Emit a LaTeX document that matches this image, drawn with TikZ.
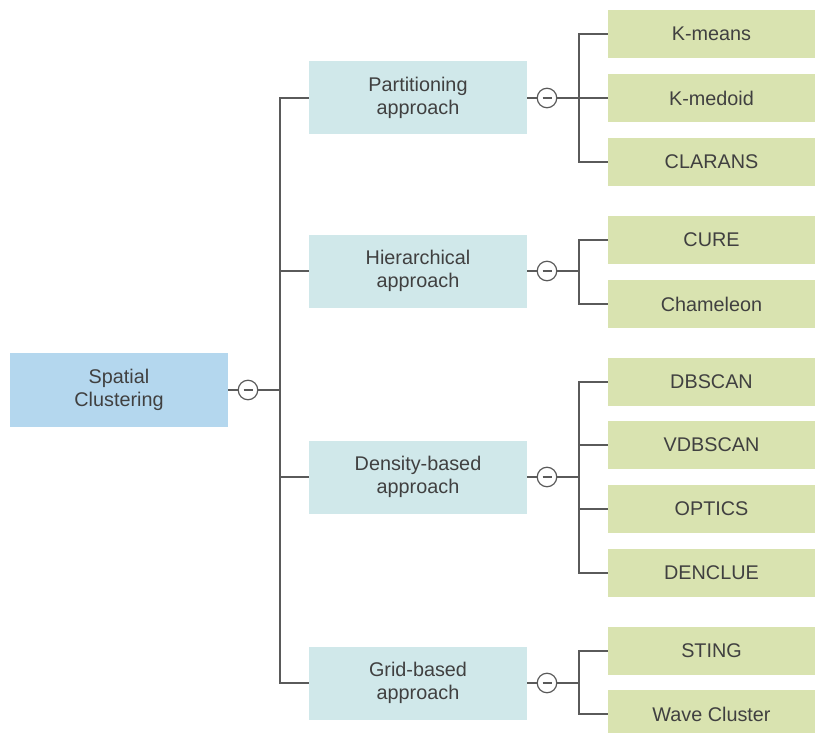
\documentclass[tikz,border=0pt]{standalone}
\usepackage{fontspec}
\setmainfont{Liberation Sans}
\definecolor{rootblue}{HTML}{B4D7EE}
\definecolor{catcyan}{HTML}{D0E8EA}
\definecolor{leafgreen}{HTML}{D9E3B0}
\definecolor{txtgray}{HTML}{404040}
\definecolor{linegray}{HTML}{5A5A5A}
\begin{document}
\begin{tikzpicture}[x=1pt,y=-1pt,
  every node/.style={inner sep=0pt, align=center, text=txtgray, font=\fontsize{19.8}{22.5}\selectfont},
  rootbox/.style={fill=rootblue, minimum width=218pt, minimum height=74pt},
  catbox/.style={fill=catcyan, minimum width=218pt, minimum height=73pt},
  leafbox/.style={fill=leafgreen, minimum width=207pt, minimum height=48pt},
  toggle/.style={circle, draw=linegray, line width=1.2pt, fill=white, minimum size=19.5pt,
    path picture={\draw[linegray, line width=1.2pt] (path picture bounding box.center) +(-4.5pt,0) -- +(4.5pt,0);}},
  wire/.style={draw=linegray, line width=1.1pt}]
\useasboundingbox (0,0) rectangle (817,733);
% root
\node[rootbox] (root) at (119,390) {Spatial\\Clustering};
\node[toggle] (t0) at (248,390) {};
\coordinate (trunk) at (280,390);
% approaches
\node[catbox] (part) at (418,98) {Partitioning\\approach};
\node[catbox] (hier) at (418,271) {Hierarchical\\approach};
\node[catbox] (dens) at (418,477) {Density-based\\approach};
\node[catbox] (grid) at (418,683) {Grid-based\\approach};
\node[toggle] (t1) at (547,98) {};
\node[toggle] (t2) at (547,271) {};
\node[toggle] (t3) at (547,477) {};
\node[toggle] (t4) at (547,683) {};
\coordinate (b1) at (579,98);
\coordinate (b2) at (579,271);
\coordinate (b3) at (579,477);
\coordinate (b4) at (579,683);
% algorithms
\node[leafbox] (kmeans) at (711.5,34) {K-means};
\node[leafbox] (kmedoid) at (711.5,98) {K-medoid};
\node[leafbox] (clarans) at (711.5,162) {CLARANS};
\node[leafbox] (cure) at (711.5,240) {CURE};
\node[leafbox] (cham) at (711.5,304) {Chameleon};
\node[leafbox] (dbscan) at (711.5,382) {DBSCAN};
\node[leafbox] (vdbscan) at (711.5,445) {VDBSCAN};
\node[leafbox] (optics) at (711.5,509) {OPTICS};
\node[leafbox] (denclue) at (711.5,573) {DENCLUE};
\node[leafbox] (sting) at (711.5,651) {STING};
\node[leafbox] (wave) at (711.5,714) {Wave Cluster};
% root to approaches
\draw[wire] (root) -- (t0) -- (trunk);
\draw[wire] (part.west) -| (trunk) |- (grid.west);
\draw[wire] (hier.west) -- (hier.west -| trunk);
\draw[wire] (dens.west) -- (dens.west -| trunk);
% approaches to algorithms
\draw[wire] (part) -- (t1) -- (b1) -- (kmedoid.west);
\draw[wire] (kmeans.west) -| (b1) |- (clarans.west);
\draw[wire] (hier) -- (t2) -- (b2);
\draw[wire] (cure.west) -| (b2) |- (cham.west);
\draw[wire] (dens) -- (t3) -- (b3);
\draw[wire] (dbscan.west) -| (b3) |- (denclue.west);
\draw[wire] (vdbscan.west) -- (vdbscan.west -| b3);
\draw[wire] (optics.west) -- (optics.west -| b3);
\draw[wire] (grid) -- (t4) -- (b4);
\draw[wire] (sting.west) -| (b4) |- (wave.west);
\end{tikzpicture}
\end{document}
